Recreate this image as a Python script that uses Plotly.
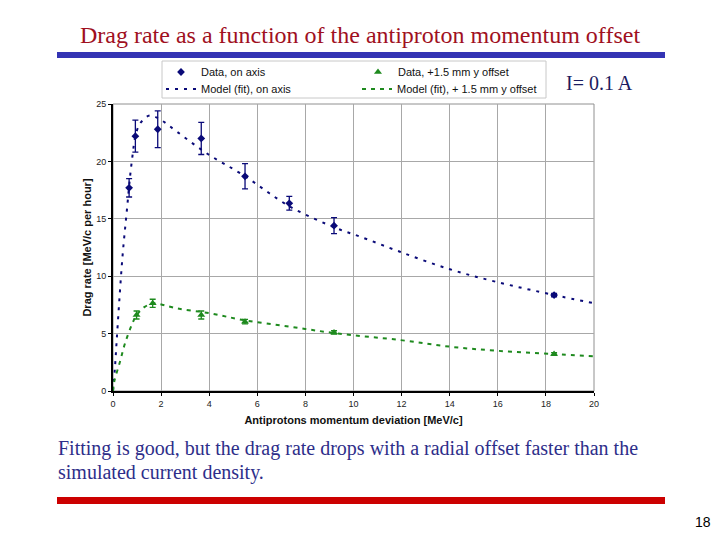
import plotly.graph_objects as go

# Data, on axis
x_axis = [0.67, 0.93, 1.86, 3.67, 5.49, 7.33, 9.19, 18.34]
y_axis = [17.7, 22.2, 22.8, 22.0, 18.7, 16.35, 14.4, 8.36]
e_axis = [0.8, 1.4, 1.6, 1.4, 1.1, 0.6, 0.7, 0.15]

# Data, +1.5 mm y offset
x_off = [0.98, 1.65, 3.67, 5.49, 9.19, 18.34]
y_off = [6.62, 7.64, 6.62, 6.04, 5.1, 3.22]
e_off = [0.35, 0.35, 0.35, 0.2, 0.15, 0.12]

# Model (fit), on axis
xm_axis = [0, 0.08, 0.15, 0.26, 0.40, 0.57, 0.78, 0.98, 1.2, 1.54, 2.0, 2.65, 3.9, 5.42,
           7.36, 9.3, 10.27, 11.93, 14.01, 15.95, 18.34, 20.0]
ym_axis = [0, 2.0, 4.3, 7.8, 11.85, 15.6, 19.97, 22.6, 23.5, 24.0, 23.6, 22.6, 20.7, 18.8,
           16.06, 14.17, 13.45, 12.13, 10.6, 9.5, 8.36, 7.65]

# Model (fit), +1.5 mm y offset
xm_off = [0, 0.05, 0.29, 0.5, 0.78, 0.98, 1.3, 1.68, 2.65, 4.03, 5.42, 7.36, 9.3, 11.93,
          14.01, 15.95, 18.34, 20.0]
ym_off = [0, 0.8, 2.55, 4.15, 5.75, 6.6, 7.3, 7.63, 7.2, 6.77, 6.18, 5.6, 5.02, 4.44,
          3.86, 3.51, 3.22, 3.03]

blue = "#0a0a78"
green = "#1e8a1e"

# page offset of the plot div (browser body margin)
OFF = 8
PL, PR, PT, PB = 113, 594, 104, 391  # plot area on the page
PW, PH = PR - PL, PB - PT


def px(p):
    return (p - PL) / PW


def py(p):
    return (PB - p) / PH


fig = go.Figure()
fig.add_trace(go.Scatter(x=x_axis, y=y_axis, mode="markers", name="Data, on axis",
                         marker=dict(symbol="diamond", color=blue, size=6),
                         error_y=dict(type="data", array=e_axis, color=blue, thickness=1.3, width=3),
                         legend="legend"))
fig.add_trace(go.Scatter(x=xm_axis, y=ym_axis, mode="lines", name="Model (fit), on axis",
                         line=dict(color=blue, width=2, dash="3px,6px"), legend="legend2",
                         line_shape="spline"))
fig.add_trace(go.Scatter(x=x_off, y=y_off, mode="markers", name="Data, +1.5 mm y offset",
                         marker=dict(symbol="triangle-up", color=green, size=7),
                         error_y=dict(type="data", array=e_off, color=green, thickness=1.3, width=3),
                         legend="legend3"))
fig.add_trace(go.Scatter(x=xm_off, y=ym_off, mode="lines", name="Model (fit), + 1.5 mm y offset",
                         line=dict(color=green, width=2, dash="4px,5px"), legend="legend4",
                         line_shape="spline"))

leg_font = dict(family="Liberation Sans, Arial", size=11, color="#111")


def leg(xp, yp):
    return dict(x=px(xp), y=py(yp), xanchor="left", yanchor="middle",
                bgcolor="rgba(0,0,0,0)", font=leg_font, itemwidth=30)


serif = "Liberation Serif, Times New Roman"
axis_font = dict(family="Liberation Sans, Arial", size=9, color="#222")
title_font = dict(family="Liberation Sans, Arial", size=11, color="#111")
fig.update_layout(
    width=720 - OFF, height=540 - OFF,
    margin=dict(l=PL - OFF, r=720 - PR, t=PT - OFF, b=540 - PB),
    paper_bgcolor="white", plot_bgcolor="white",
    showlegend=True,
    legend=leg(161, 72),
    legend2=leg(161, 89),
    legend3=leg(358, 72),
    legend4=leg(357, 89),
    xaxis=dict(range=[0, 20], dtick=2, showgrid=True, gridcolor="#a8a8a8", gridwidth=1,
               showline=True, linecolor="black", linewidth=2, ticks="outside", ticklen=3,
               tickcolor="black", tickfont=axis_font, zeroline=False,
               title=dict(text="<b>Antiprotons momentum deviation [MeV/c]</b>",
                          font=title_font, standoff=9)),
    yaxis=dict(range=[0, 25], dtick=5, showgrid=True, gridcolor="#a8a8a8", gridwidth=1,
               showline=True, linecolor="black", linewidth=2, ticks="outside", ticklen=3,
               tickcolor="black", tickfont=axis_font, zeroline=False,
               title=dict(text="<b>Drag rate [MeV/c per hour]</b>",
                          font=title_font, standoff=2)),
    shapes=[
        dict(type="rect", xref="paper", yref="paper", x0=0, x1=1, y0=0, y1=1,
             line=dict(color="#909090", width=1), layer="below"),
        dict(type="rect", xref="paper", yref="paper", x0=px(162), x1=px(546),
             y0=py(98), y1=py(61), line=dict(color="#c8c8c8", width=1),
             fillcolor="rgba(0,0,0,0)", layer="above"),
        dict(type="rect", xref="paper", yref="paper", x0=px(57), x1=px(665),
             y0=py(58), y1=py(52), line=dict(width=0), fillcolor="#3434b4"),
        dict(type="rect", xref="paper", yref="paper", x0=px(57), x1=px(665),
             y0=py(504), y1=py(497), line=dict(width=0), fillcolor="#cc0000"),
    ],
    annotations=[
        dict(text="Drag rate as a function of the antiproton momentum offset", xref="paper",
             yref="paper", x=px(360), y=py(35), showarrow=False,
             font=dict(family=serif, size=24, color="#a0101e"),
             xanchor="center", yanchor="middle"),
        dict(text="I= 0.1 A", xref="paper", yref="paper", x=px(564), y=py(83),
             showarrow=False, xanchor="left", yanchor="middle",
             font=dict(family=serif, size=20, color="#1c1c60")),
        dict(text="Fitting is good, but the drag rate drops with a radial offset faster than the",
             xref="paper", yref="paper", x=px(56), y=py(448), showarrow=False,
             xanchor="left", yanchor="middle",
             font=dict(family=serif, size=20, color="#2e2e8a")),
        dict(text="simulated current density.",
             xref="paper", yref="paper", x=px(56), y=py(472), showarrow=False,
             xanchor="left", yanchor="middle",
             font=dict(family=serif, size=20, color="#2e2e8a")),
        dict(text="18", xref="paper", yref="paper", x=px(713), y=py(522),
             showarrow=False, xanchor="right", yanchor="middle",
             font=dict(family="Liberation Sans, Arial", size=14, color="black")),
    ],
)

fig.write_html("out.html")
